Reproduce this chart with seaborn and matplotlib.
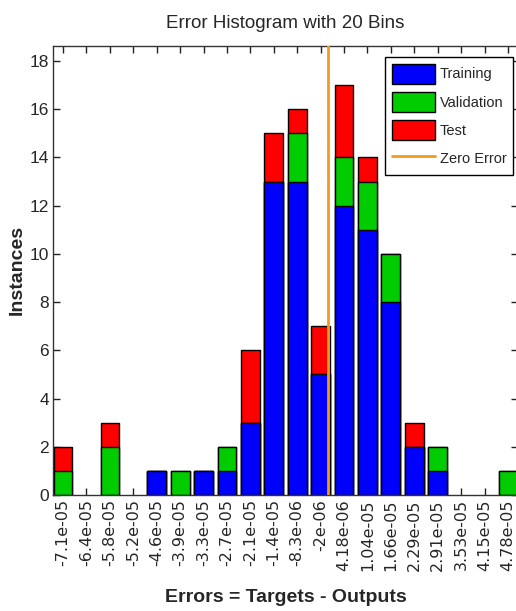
import numpy as np
import pandas as pd
import matplotlib
matplotlib.use("Agg")
import matplotlib.pyplot as plt
from matplotlib.patches import Patch
from matplotlib.lines import Line2D
import seaborn as sns

# Bin centres (errors) and per-subset counts
bin_labels = ["-7.1e-05", "-6.4e-05", "-5.8e-05", "-5.2e-05", "-4.6e-05",
              "-3.9e-05", "-3.3e-05", "-2.7e-05", "-2.1e-05", "-1.4e-05",
              "-8.3e-06", "-2e-06", "4.18e-06", "1.04e-05", "1.66e-05",
              "2.29e-05", "2.91e-05", "3.53e-05", "4.15e-05", "4.78e-05"]
training = [0, 0, 0, 0, 1, 0, 1, 1, 3, 13, 13, 5, 12, 11, 8, 2, 1, 0, 0, 0]
validation = [1, 0, 2, 0, 0, 1, 0, 1, 0, 0, 2, 0, 2, 2, 2, 0, 1, 0, 0, 1]
test = [1, 0, 1, 0, 0, 0, 0, 0, 3, 2, 1, 2, 3, 1, 0, 1, 0, 0, 0, 0]

col_train = "#0000FF"
col_val = "#00CC00"
col_test = "#FF0000"
col_zero = "#F29A1D"

sns.set_theme(style="white")
plt.rcParams["font.family"] = ["Liberation Sans", "DejaVu Sans"]

W, H = 516, 611
fig = plt.figure(figsize=(W / 100, H / 100), dpi=100)
left, right, top, bottom = 53, 518, 46, 495
ax = fig.add_axes([left / W, 1 - bottom / H, (right - left) / W, (bottom - top) / H])
aw, ah = right - left, bottom - top

df = pd.DataFrame({
    "bin": bin_labels,
    "train": training,
    "val": validation,
    "test": test,
})
df["train_val"] = df["train"] + df["val"]
df["total"] = df["train_val"] + df["test"]

# Stacked bars: draw cumulative totals back to front
for col, colour in [("total", col_test), ("train_val", col_val), ("train", col_train)]:
    sns.barplot(data=df, x="bin", y=col, order=bin_labels, color=colour,
                saturation=1, width=0.8, edgecolor="black", linewidth=1.0,
                ax=ax)
# empty bins leave no outline on the baseline
for p in ax.patches:
    if p.get_height() == 0:
        p.set_visible(False)

# Zero error line, placed between the neighbouring bin centres
centres = np.array([float(s) for s in bin_labels])
zero_pos = np.interp(0.0, centres, np.arange(len(centres)))
ax.axvline(zero_pos, color=col_zero, linewidth=2, zorder=5)

ax.set_xlim(-0.43, len(bin_labels) - 1 + 0.43)
ax.set_ylim(0, 18.62)
ax.set_yticks(np.arange(0, 19, 2))
ax.set_xticks(np.arange(len(bin_labels)))
ax.set_xticklabels(bin_labels, rotation=90, fontsize=11.5,
                   family=["DejaVu Sans"])
ax.tick_params(axis="y", labelsize=12.5)
ax.tick_params(direction="in", length=5, width=1, color="#222222",
               top=True, right=True, bottom=True, left=True, pad=3)
for s in ax.spines.values():
    s.set_color("#333333")
    s.set_linewidth(1.0)

ax.set_title("Error Histogram with 20 Bins", fontsize=13.5, pad=13)
ax.set_xlabel("Errors = Targets - Outputs", fontsize=14, fontweight="bold")
ax.xaxis.set_label_coords((286 - left) / aw, (bottom - 589) / ah)
ax.set_ylabel("Instances", fontsize=14, fontweight="bold")
ax.yaxis.set_label_coords((26 - left) / aw, (bottom - 270) / ah)

handles = [
    Patch(facecolor=col_train, edgecolor="black", linewidth=1),
    Patch(facecolor=col_val, edgecolor="black", linewidth=1),
    Patch(facecolor=col_test, edgecolor="black", linewidth=1),
    Line2D([0], [0], color=col_zero, linewidth=2),
]
leg = ax.legend(handles, ["Training", "Validation", "Test", "Zero Error"],
                loc="upper right", bbox_to_anchor=(513 / W, 1 - 57 / H),
                bbox_transform=fig.transFigure, borderaxespad=0,
                fontsize=10.5, handlelength=3.0, handleheight=1.75,
                handletextpad=0.3, labelspacing=0.55, borderpad=0.45,
                fancybox=False, framealpha=1, edgecolor="black")
leg.get_frame().set_linewidth(1.0)

fig.savefig("out.png", dpi=100)
